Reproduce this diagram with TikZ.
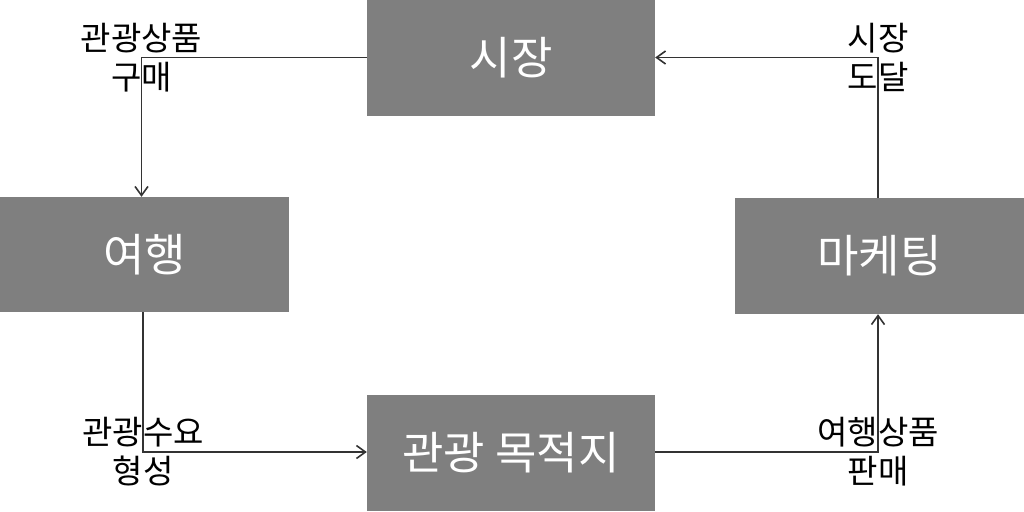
\documentclass[tikz,border=0pt]{standalone}
\usepackage{fontspec}
\setmainfont{Noto Sans CJK KR}
\usetikzlibrary{arrows.meta}
\definecolor{boxgray}{HTML}{7F7F7F}
\definecolor{linegray}{HTML}{333333}
\begin{document}
\begin{tikzpicture}[x=1pt,y=-1pt,
  box/.style={draw=none,fill=boxgray,text=white,minimum width=288pt,minimum height=116pt,
    inner sep=0pt,font=\fontsize{45}{52}\selectfont},
  lbl/.style={align=center,inner sep=0pt,text=black,font=\fontsize{33}{39}\selectfont},
  conn/.style={draw=linegray,line width=1.8pt,-{Straight Barb[length=9pt,width=13pt,line width=1.6pt]}}]
\useasboundingbox (0,0) rectangle (1024,511);
\node[box] (sijang) at (511,58) {시장};
\node[box,minimum width=289pt,minimum height=115pt] (yeohaeng) at (144.5,254.5) {여행};
\node[box,minimum width=289pt] (marketing) at (879.5,256) {마케팅};
\node[box] (mokjeok) at (511,453) {관광 목적지};
\coordinate (c1) at (141.5,57.5);
\coordinate (c2) at (143,452);
\coordinate (c3) at (878,452);
\coordinate (c4) at (878,57.5);
\draw[conn] (sijang.west |- c1) -- (c1) -- (c1 |- yeohaeng.north);
\draw[conn] (c2 |- yeohaeng.south) -- (c2) -- (mokjeok.west |- c2);
\draw[conn] (mokjeok.east |- c3) -- (c3) -- (c3 |- marketing.south);
\draw[conn] (c4 |- marketing.north) -- (c4) -- (sijang.east |- c4);
\node[lbl] (l1) at (c1) {관광상품\\구매};
\node[lbl] (l2) at (c2) {관광수요\\형성};
\node[lbl] (l3) at (c3) {여행상품\\판매};
\node[lbl] (l4) at (c4) {시장\\도달};
\end{tikzpicture}
\end{document}
